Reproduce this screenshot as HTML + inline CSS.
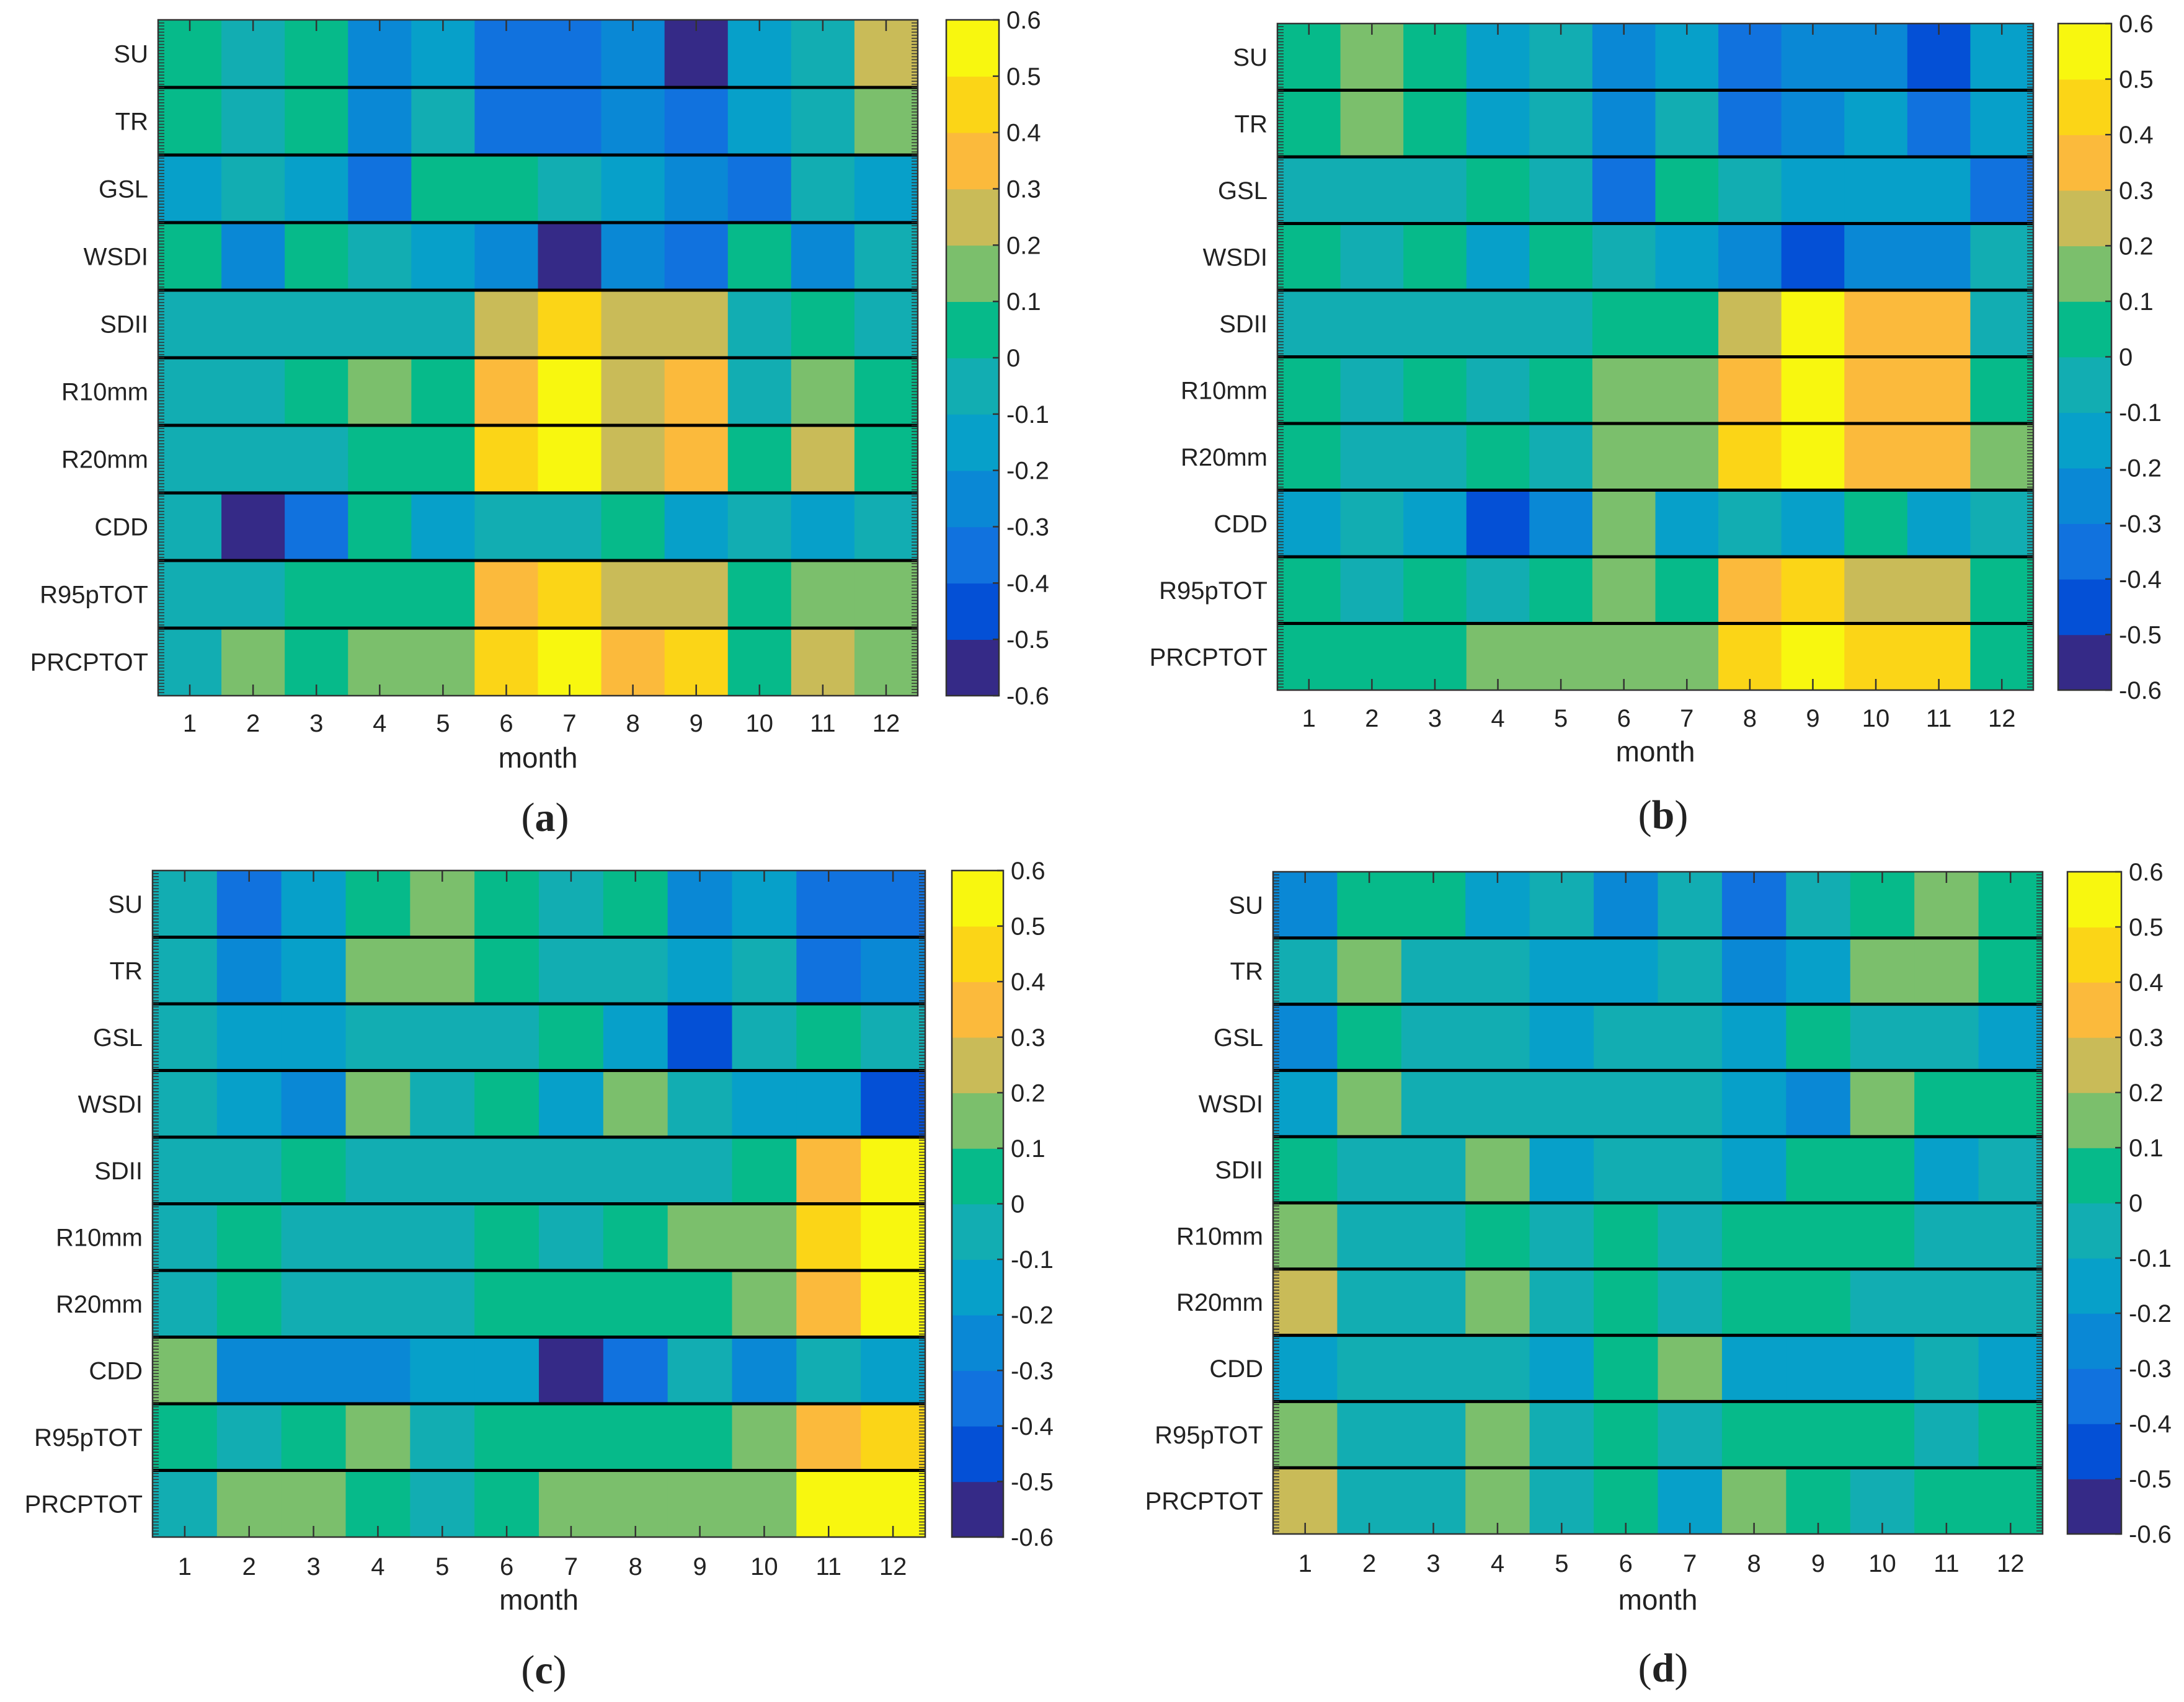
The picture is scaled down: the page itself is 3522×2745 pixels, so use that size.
<!DOCTYPE html>
<html><head><meta charset="utf-8">
<style>
html,body{margin:0;padding:0;background:#fff;}
svg{display:block;}
text{font-family:"Liberation Sans",sans-serif;fill:#222;}
</style></head>
<body>
<svg id="chart" width="3522" height="2745" viewBox="0 0 3522 2745" xmlns="http://www.w3.org/2000/svg"></svg>
<script>
const months = [1,2,3,4,5,6,7,8,9,10,11,12];
const indices = ["SU","TR","GSL","WSDI","SDII","R10mm","R20mm","CDD","R95pTOT","PRCPTOT"];
const cbTicks = [-0.6,-0.5,-0.4,-0.3,-0.2,-0.1,0,0.1,0.2,0.3,0.4,0.5,0.6];
const panelA = [
[0.0,-0.1,0.0,-0.25,-0.15,-0.35,-0.4,-0.3,-0.55,-0.2,-0.05,0.25],
[0.05,-0.1,0.0,-0.25,-0.05,-0.35,-0.35,-0.25,-0.35,-0.15,-0.1,0.15],
[-0.2,-0.05,-0.15,-0.4,0.05,0.05,-0.05,-0.15,-0.25,-0.4,-0.05,-0.15],
[0.05,-0.25,0.0,-0.05,-0.2,-0.3,-0.55,-0.25,-0.35,0.0,-0.3,-0.05],
[-0.1,-0.1,-0.05,-0.05,-0.05,0.25,0.45,0.25,0.25,-0.05,0.0,-0.05],
[-0.05,-0.05,0.0,0.1,0.05,0.35,0.55,0.25,0.35,-0.1,0.15,0.0],
[-0.05,-0.05,-0.05,0.0,0.0,0.4,0.5,0.25,0.3,0.05,0.2,0.05],
[-0.1,-0.55,-0.35,0.0,-0.2,-0.1,-0.1,0.05,-0.15,-0.05,-0.15,-0.05],
[-0.05,-0.1,0.0,0.0,0.0,0.3,0.4,0.25,0.2,0.05,0.1,0.1],
[-0.05,0.1,0.05,0.1,0.1,0.45,0.55,0.3,0.45,0.0,0.25,0.1]];
const panelB = [
[0.0,0.1,0.0,-0.15,-0.05,-0.25,-0.2,-0.35,-0.3,-0.25,-0.5,-0.2],
[0.05,0.1,0.05,-0.15,-0.05,-0.25,-0.05,-0.35,-0.3,-0.2,-0.35,-0.2],
[-0.1,-0.05,-0.1,0.0,-0.1,-0.35,0.0,-0.05,-0.2,-0.15,-0.2,-0.4],
[0.0,-0.1,0.0,-0.15,0.0,-0.05,-0.15,-0.25,-0.5,-0.3,-0.3,-0.1],
[-0.05,-0.1,-0.05,-0.05,-0.1,0.0,0.05,0.25,0.5,0.3,0.3,-0.05],
[0.0,-0.05,0.0,-0.05,0.0,0.15,0.15,0.35,0.55,0.35,0.35,0.0],
[0.0,-0.05,-0.05,0.0,-0.05,0.1,0.1,0.4,0.5,0.3,0.3,0.1],
[-0.15,-0.05,-0.15,-0.5,-0.3,0.1,-0.15,-0.05,-0.15,0.0,-0.15,-0.05],
[0.05,-0.05,0.0,-0.05,0.05,0.1,0.05,0.3,0.4,0.25,0.2,0.0],
[0.0,0.0,0.05,0.1,0.15,0.15,0.1,0.45,0.55,0.4,0.45,0.05]];
const panelC = [
[-0.1,-0.35,-0.2,0.05,0.15,0.05,-0.05,0.0,-0.25,-0.2,-0.35,-0.4],
[-0.1,-0.3,-0.15,0.1,0.15,0.05,-0.1,-0.1,-0.2,-0.05,-0.4,-0.3],
[-0.05,-0.2,-0.15,-0.1,-0.05,-0.05,0.0,-0.2,-0.45,-0.05,0.0,-0.1],
[-0.05,-0.2,-0.25,0.1,-0.05,0.0,-0.2,0.1,-0.05,-0.15,-0.2,-0.5],
[-0.05,-0.1,0.0,-0.1,-0.05,-0.05,-0.1,-0.05,-0.05,0.0,0.3,0.5],
[-0.05,0.0,-0.1,-0.05,-0.05,0.0,-0.05,0.05,0.1,0.15,0.45,0.55],
[-0.05,0.05,-0.1,-0.05,-0.05,0.05,0.0,0.05,0.05,0.1,0.35,0.5],
[0.15,-0.25,-0.25,-0.3,-0.15,-0.2,-0.55,-0.35,-0.1,-0.3,-0.1,-0.15],
[0.0,-0.05,0.0,0.1,-0.05,0.0,0.0,0.05,0.0,0.1,0.3,0.4],
[-0.1,0.15,0.1,0.0,-0.05,0.05,0.1,0.1,0.15,0.15,0.5,0.5]];
const panelD = [
[-0.25,0.05,0.0,-0.2,-0.1,-0.25,-0.1,-0.35,-0.1,0.05,0.1,0.0],
[-0.05,0.15,-0.05,-0.05,-0.15,-0.15,-0.05,-0.3,-0.15,0.15,0.15,0.05],
[-0.25,0.0,-0.05,-0.1,-0.2,-0.1,-0.1,-0.2,0.0,-0.1,-0.05,-0.15],
[-0.15,0.15,-0.05,-0.1,-0.05,-0.05,-0.05,-0.15,-0.25,0.1,0.05,0.05],
[0.05,-0.05,-0.05,0.1,-0.2,-0.05,-0.05,-0.15,0.05,0.0,-0.15,-0.1],
[0.15,-0.1,-0.05,0.05,-0.05,0.0,-0.05,0.05,0.05,0.0,-0.1,-0.05],
[0.2,-0.1,-0.05,0.1,-0.1,0.0,-0.05,0.05,0.0,-0.05,-0.1,-0.05],
[-0.15,-0.05,-0.05,-0.1,-0.15,0.05,0.15,-0.15,-0.15,-0.15,-0.1,-0.15],
[0.15,-0.05,-0.05,0.15,-0.1,0.05,-0.05,0.0,0.0,0.0,-0.1,0.0],
[0.2,-0.1,-0.05,0.1,-0.05,0.05,-0.15,0.15,0.05,-0.05,0.0,0.0]];

const palette = ["#352a87","#0450d6","#1172de","#0a88d5","#07a0c9","#12adb2","#06ba8a","#7bbf6c","#c9bb58","#fbba3c","#fbd517","#f8f70f"];
const svg = document.getElementById('chart');
const NS = "http://www.w3.org/2000/svg";
function mk(tag, attrs, parent){const e=document.createElementNS(NS,tag);for(const k in attrs)e.setAttribute(k,attrs[k]);(parent||svg).appendChild(e);return e;}
function colorOf(v){let b=Math.floor((v+0.6)/0.1+1e-9);b=Math.max(0,Math.min(11,b));return palette[b];}

const panels = [
 {id:"a",data:panelA,x0:255,x1:1480,y0:32,y1:1122,cb0:1526,cb1:1611,mLab:1180,mTitle:1238,letterX:879,letterY:1340},
 {id:"b",data:panelB,x0:2060,x1:3279,y0:38,y1:1113,cb0:3319,cb1:3405,mLab:1172,mTitle:1228,letterX:2682,letterY:1336},
 {id:"c",data:panelC,x0:246,x1:1492,y0:1404,y1:2479,cb0:1535,cb1:1618,mLab:2540,mTitle:2596,letterX:877,letterY:2715},
 {id:"d",data:panelD,x0:2053,x1:3294,y0:1406,y1:2474,cb0:3334,cb1:3421,mLab:2535,mTitle:2596,letterX:2682,letterY:2712}
];

panels.forEach(p=>{
  const g = mk('g',{});
  
  
  const W=p.x1-p.x0, H=p.y1-p.y0;
  const xs = i => p.x0 + i*W/months.length;
  const ys = j => p.y0 + j*H/indices.length;
  p.data.forEach((row,j)=>{
    row.forEach((v,i)=>{
      const r = mk('rect',{x:xs(i),y:ys(j),width:W/12+0.8,height:H/10+0.8,fill:colorOf(v)},g);
      
      
    });
  });
  // separators
  for(let j=1;j<indices.length;j++){
    const l = mk('line',{x1:p.x0,x2:p.x1,y1:ys(j),y2:ys(j),stroke:'#000','stroke-width':5},g);
    
    
  }
  // minor ticks left/right
  const nMinor = 220;
  let dstr='';
  for(let k=0;k<=nMinor;k++){const y=p.y0+k*H/nMinor;dstr+=`M${p.x0} ${y}h10M${p.x1} ${y}h-10`;}
  const mt = mk('path',{d:dstr,stroke:'#333','stroke-width':1.5,fill:'none'},g);
  
  
  // frame
  const fr = mk('rect',{x:p.x0,y:p.y0,width:W,height:H,fill:'none',stroke:'#333','stroke-width':2.5},g);
  
  
  // month ticks and labels
  months.forEach((m,i)=>{
    const cx = xs(i)+W/24;
    mk('line',{x1:cx,x2:cx,y1:p.y1,y2:p.y1-18,stroke:'#333','stroke-width':2.5},g);
    mk('line',{x1:cx,x2:cx,y1:p.y0,y2:p.y0+18,stroke:'#333','stroke-width':2.5},g);
    const t = mk('text',{x:cx,y:p.mLab,'text-anchor':'middle','font-size':40},g);
    t.textContent = m;
    
    
  });
  const mt2 = mk('text',{x:(p.x0+p.x1)/2,y:p.mTitle,'text-anchor':'middle','font-size':46},g);
  mt2.textContent='month';
  
  
  indices.forEach((name,j)=>{
    const t = mk('text',{x:p.x0-16,y:ys(j)+H/20+14,'text-anchor':'end','font-size':40},g);
    t.textContent=name;
    
    
  });
  // colorbar
  const cbH = H;
  const cy = v => p.y1 - (v+0.6)/1.2*cbH;
  palette.forEach((c,k)=>{
    const v0 = cbTicks[k], v1 = cbTicks[k+1];
    const r = mk('rect',{x:p.cb0,y:cy(v1),width:p.cb1-p.cb0,height:cy(v0)-cy(v1)+0.8,fill:c},g);
    
    
  });
  const cbf = mk('rect',{x:p.cb0,y:p.y0,width:p.cb1-p.cb0,height:cbH,fill:'none',stroke:'#333','stroke-width':2.5},g);
  
  
  cbTicks.forEach(v=>{
    const y=cy(v);
    mk('line',{x1:p.cb1,x2:p.cb1-10,y1:y,y2:y,stroke:'#333','stroke-width':2.5},g);
    const t = mk('text',{x:p.cb1+12,y:y+14,'font-size':40},g);
    t.textContent = (Math.round(v*10)/10).toString();
    
    
  });
  const lt = mk('text',{x:p.letterX,y:p.letterY,'text-anchor':'middle','font-size':66,style:'font-family:"Liberation Serif",serif'},g);
  lt.innerHTML = '(<tspan font-weight="bold">'+p.id+'</tspan>)';
  
  
});
</script>
</body></html>
